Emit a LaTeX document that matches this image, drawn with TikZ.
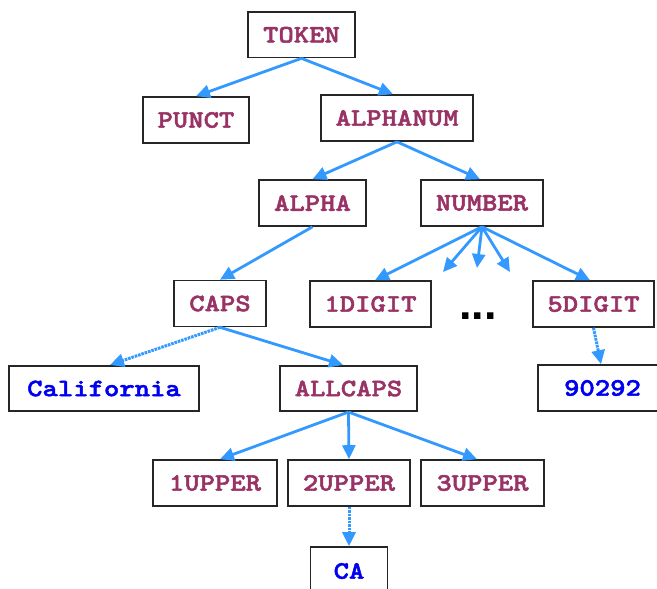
\documentclass[tikz,border=0pt]{standalone}
\usepackage{fontspec}
\newfontfamily\boxfont[FakeStretch=1.17,FakeBold=2]{lmmonolt10-bold.otf}
\newfontfamily\dotsfont{Liberation Sans}
\usetikzlibrary{arrows.meta}
\definecolor{maroon}{HTML}{993366}
\definecolor{leafblue}{HTML}{0000F0}
\definecolor{arrowblue}{HTML}{3399FF}
\tikzset{
  box/.style={draw=black!85, line width=1.6pt, fill=white, inner sep=0pt,
    minimum height=46pt, font=\boxfont\fontsize{25}{30}\selectfont, text=maroon},
  leaf/.style={box, text=leafblue},
  link/.style={draw=arrowblue, line width=2.8pt, -{Triangle[length=14pt,width=13pt]}},
  dotlink/.style={link, line width=3pt, dash pattern=on 2.6pt off 0.9pt},
}
\begin{document}
\begin{tikzpicture}[x=1pt,y=-1pt]
\useasboundingbox (0,0) rectangle (657,589);
% nodes
\node[box, minimum width=107pt, minimum height=45.5pt] (token) at (301.5,34.8) {TOKEN};
\node[box, minimum width=106pt] (punct) at (196,120) {PUNCT};
\node[box, minimum width=152pt] (alphanum) at (397,118) {ALPHANUM};
\node[box, minimum width=107pt] (alpha) at (312.5,203) {ALPHA};
\node[box, minimum width=122pt] (number) at (482,203) {NUMBER};
\node[box, minimum width=91.5pt] (caps) at (220,303.5) {CAPS};
\node[box, minimum width=121pt] (d1) at (370.5,304) {1DIGIT};
\node[box, minimum width=121pt] (d5) at (593.5,304) {5DIGIT};
\node[leaf, minimum width=190pt, minimum height=45.5pt] (calif) at (104,388.5) {California};
\node[box, minimum width=137pt, minimum height=45.5pt] (allcaps) at (348.5,388.5) {ALLCAPS};
\node[leaf, minimum width=129pt] (zip) at (602.5,388) {90292};
\node[box, minimum width=124pt] (u1) at (215,483) {1UPPER};
\node[box, minimum width=122pt] (u2) at (349,483) {2UPPER};
\node[box, minimum width=123pt] (u3) at (482.5,483) {3UPPER};
\node[leaf, minimum width=77pt, minimum height=48pt] (ca) at (349,571) {CA};
\node[font=\dotsfont\bfseries\fontsize{45}{50}\selectfont, anchor=base, inner sep=0pt] (dots) at (478,319) {...};
% free ends
\coordinate (m1) at (443,272);
\coordinate (m2) at (477,268);
\coordinate (m3) at (510,272);
% connectors
\draw[link] (token.south) -- (punct.north);
\draw[link] (token.south) -- ([xshift=-4pt]alphanum.north);
\draw[link] (alphanum.south) -- (alpha.north);
\draw[link] (alphanum.south) -- ([xshift=-2pt]number.north);
\draw[link] (alpha.south) -- (caps.north);
\draw[link] (number.south) -- ([xshift=4.5pt]d1.north);
\draw[link] (number.south) -- (m1);
\draw[link] (number.south) -- (m2);
\draw[link] (number.south) -- (m3);
\draw[link] (number.south) -- ([xshift=-3.5pt]d5.north);
\draw[dotlink] (caps.south) -- ([xshift=6pt]calif.north);
\draw[link] (caps.south) -- ([xshift=-5.5pt]allcaps.north);
\draw[dotlink] (d5.south) -- ([xshift=-1.5pt]zip.north);
\draw[link] (allcaps.south) -- ([xshift=5pt]u1.north);
\draw[link] (allcaps.south) -- (u2.north);
\draw[link] (allcaps.south) -- ([xshift=-5.5pt]u3.north);
\draw[dotlink] (u2.south) -- (ca.north);
\end{tikzpicture}
\end{document}
